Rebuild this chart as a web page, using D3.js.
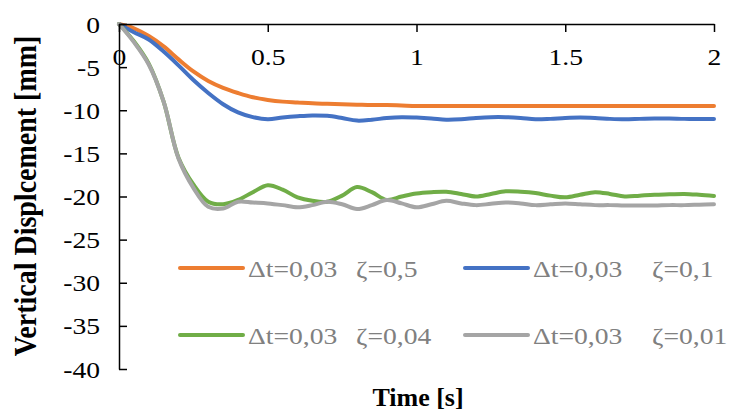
<!DOCTYPE html>
<html lang="en">
<head>
<meta charset="UTF-8">
<script src="https://cdn.jsdelivr.net/npm/d3@7/dist/d3.min.js"></script>
<style>
  body { margin: 0; background: #fff; }
  text { font-family: "Liberation Serif", "Times New Roman", serif; }
</style>
</head>
<body>
<svg id="chart" width="731" height="412"></svg>
<script>
// time steps [s]
let time = d3.range(0, 41).map(i => +(i * 0.05).toFixed(2));

// vertical displacement [mm], one array per series
let dispZeta050 = [0, -0.5, -1.4, -2.6, -4.1, -5.5, -6.6, -7.4, -8.0, -8.5, -8.8, -9.0, -9.1, -9.2, -9.25, -9.3,
  -9.35, -9.4, -9.4, -9.45, -9.5, -9.5, -9.5, -9.5, -9.5, -9.5, -9.5, -9.5, -9.5, -9.5, -9.5,
  -9.5, -9.5, -9.5, -9.5, -9.5, -9.5, -9.5, -9.5, -9.5, -9.5];
let dispZeta010 = [0, -0.95, -1.8, -3.2, -4.8, -6.5, -8.0, -9.3, -10.25, -10.8, -11.05, -10.85, -10.7, -10.6, -10.65, -10.9,
  -11.2, -11.1, -10.9, -10.8, -10.85, -10.95, -11.1, -11.05, -10.9, -10.8, -10.8, -10.9, -11.05, -11.0, -10.9,
  -10.85, -10.9, -11.0, -11.05, -11.0, -10.95, -10.95, -11.0, -11.0, -11.0];
let dispZeta004 = [0, -2.0, -4.6, -9.0, -15.5, -18.6, -20.6, -20.9, -20.4, -19.5, -18.7, -19.2, -20.1, -20.5, -20.6, -19.9,
  -18.9, -19.5, -20.4, -20.0, -19.65, -19.5, -19.45, -19.7, -20.0, -19.7, -19.4, -19.45, -19.6, -19.9, -20.1,
  -19.8, -19.5, -19.7, -20.0, -19.9, -19.8, -19.75, -19.7, -19.8, -19.95];
let dispZeta001 = [0, -2.1, -4.7, -9.0, -15.6, -19.0, -21.2, -21.4, -20.6, -20.7, -20.8, -21.0, -21.25, -21.0, -20.6, -20.9,
  -21.45, -21.0, -20.4, -20.8, -21.25, -20.9, -20.5, -20.8, -21.0, -20.85, -20.7, -20.8, -21.0, -20.9, -20.8,
  -20.9, -21.0, -21.0, -21.05, -21.05, -21.05, -21.0, -21.0, -20.95, -20.9];

let seriesDt = ["0,03", "0,03", "0,03", "0,03"];
let seriesZeta = ["0,5", "0,1", "0,04", "0,01"];
let seriesColors = ["#ED7D31", "#4472C4", "#70AD47", "#A5A5A5"];
let seriesValues = [dispZeta050, dispZeta010, dispZeta004, dispZeta001];

let xTicks = [0, 0.5, 1, 1.5, 2];
let yTicks = [0, -5, -10, -15, -20, -25, -30, -35, -40];

let svg = d3.select("#chart");
const stretch = 1.15; // the picture is a bit wider than tall

/* SCALES */
let scaleX = d3.scaleLinear().domain([0, 2]).range([119, 714]);
let scaleY = d3.scaleLinear().domain([-40, 0]).range([369, 24]);

/* LINES */
let line = d3.line()
  .x((d, i) => scaleX(time[i]))
  .y(d => scaleY(d))
  .curve(d3.curveCatmullRom.alpha(0.5));

svg.append("g").selectAll("path")
  .data(seriesValues)
  .enter()
  .append("path")
  .attr("d", d => line(d))
  .attr("fill", "none")
  .attr("stroke", (d, i) => seriesColors[i])
  .attr("stroke-width", 4)
  .attr("stroke-linejoin", "round")
  .attr("stroke-linecap", "round");

/* AXES */
let axisX = d3.axisBottom(scaleX)
  .tickValues(xTicks)
  .tickSizeInner(8)
  .tickSizeOuter(0)
  .tickFormat(d => d);

let gx = svg.append("g").attr("transform", "translate(0," + scaleY(0) + ")").call(axisX);
gx.selectAll("text")
  .attr("y", 0).attr("dy", 0)
  .attr("transform", "translate(0,41) scale(" + stretch + ",1)");

let axisY = d3.axisLeft(scaleY)
  .tickValues(yTicks)
  .tickSizeInner(-8)
  .tickSizeOuter(0)
  .tickFormat(d => d);

let gy = svg.append("g").attr("transform", "translate(" + scaleX(0) + ",0)").call(axisY);
gy.selectAll("text")
  .attr("x", 0).attr("dy", 0)
  .attr("transform", "translate(-19,8) scale(" + stretch + ",1)");

// drop d3's default sans-serif font on the axis groups
gx.attr("font-family", null).attr("font-size", null);
gy.attr("font-family", null).attr("font-size", null);

svg.selectAll(".domain, .tick line")
  .attr("stroke", "#000")
  .attr("stroke-width", 1.5);
svg.selectAll(".tick text")
  .style("font-family", "'Liberation Serif', 'Times New Roman', serif")
  .style("font-size", "24px")
  .attr("fill", "#000");

/* TITLES */
svg.append("text")
  .text("Vertical Displcement [mm]")
  .attr("transform", "translate(36,196) scale(" + stretch + ",1) rotate(-90)")
  .attr("text-anchor", "middle")
  .style("font-size", "28px")
  .style("font-weight", "bold");

svg.append("text")
  .text("Time [s]")
  .attr("transform", "translate(418,406)")
  .attr("text-anchor", "middle")
  .style("font-size", "26px")
  .style("font-weight", "bold");

/* LEGEND */
let legendCols = [180, 465];
let legendRows = [268, 335];
let zetaGap = [108, 119];

let legend = svg.append("g").selectAll("g")
  .data(seriesZeta)
  .enter()
  .append("g")
  .attr("transform", (d, i) => "translate(" + legendCols[i % 2] + "," + legendRows[Math.floor(i / 2)] + ")");

legend.append("line")
  .attr("x1", 0).attr("x2", 63)
  .attr("stroke", (d, i) => seriesColors[i])
  .attr("stroke-width", 4)
  .attr("stroke-linecap", "round");

legend.append("text")
  .text((d, i) => "\u0394t=" + seriesDt[i])
  .attr("transform", "translate(68,9) scale(" + stretch + ",1)")
  .attr("fill", "#808080")
  .style("font-size", "24px");

legend.append("text")
  .text(d => "\u03B6=" + d)
  .attr("transform", (d, i) => "translate(" + (68 + zetaGap[i % 2]) + ",9) scale(" + stretch + ",1)")
  .attr("fill", "#808080")
  .style("font-size", "24px");
</script>
</body>
</html>
